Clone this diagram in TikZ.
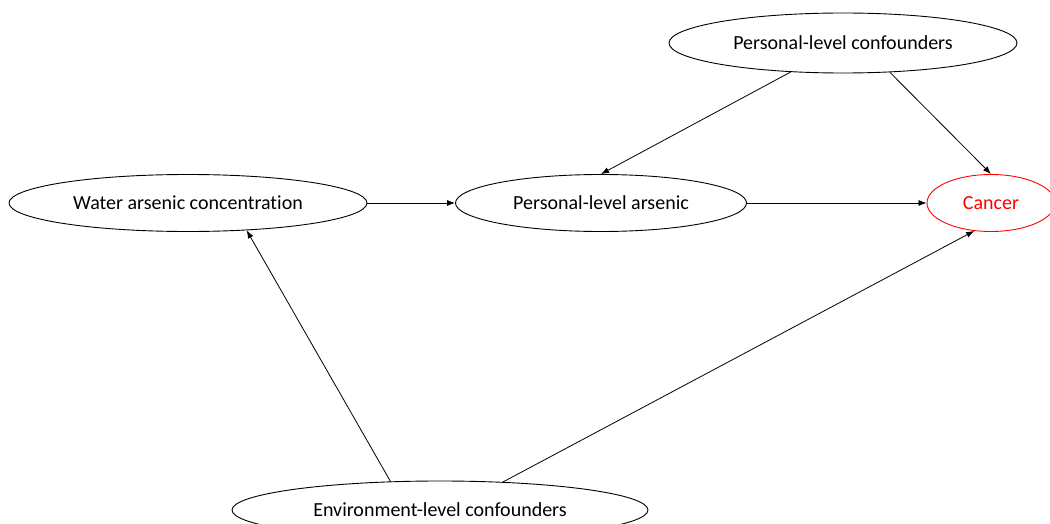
\documentclass[tikz,border=0pt]{standalone}
\usepackage{fontspec}
\setmainfont[Ligatures={NoCommon}]{Carlito}
\usetikzlibrary{shapes.geometric,arrows.meta}
\begin{document}
\begin{tikzpicture}[x=1pt,y=-1pt,
  oval/.style={ellipse,draw,line width=0.9pt,inner sep=0pt,font=\fontsize{20}{24}\selectfont},
  link/.style={line width=0.8pt,-{Latex[length=8pt,width=6pt]}}]
\clip (0,0) rectangle (1050,524);
\node[oval,minimum width=348pt,minimum height=60pt] (pc) at (843,43) {Personal-level confounders};
\node[oval,minimum width=358pt,minimum height=57pt] (wa) at (188,203) {Water arsenic concentration};
\node[oval,minimum width=291pt,minimum height=57pt] (pa) at (601,203) {Personal-level arsenic};
\node[oval,draw=red,text=red,minimum width=128pt,minimum height=57pt] (ca) at (991,203) {Cancer};
\node[oval,minimum width=416pt,minimum height=58pt] (ev) at (440,510) {Environment-level confounders};
\draw[link] (wa.east) -- (pa.west);
\draw[link] (pa.east) -- (ca.west);
\draw[link] (pc.209.5) -- (pa.north);
\draw[link] (pc.328.5) -- (ca.north);
\draw[link] (ev.150.9) -- (wa.335);
\draw[link] (ev.24.7) -- (ca.239.4);
\end{tikzpicture}
\end{document}
